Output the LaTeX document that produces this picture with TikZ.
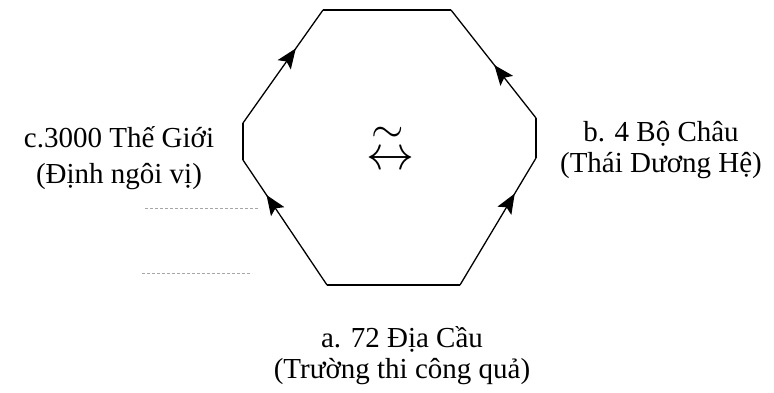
\documentclass[tikz,border=0pt]{standalone}
\usepackage{fontspec}
\setmainfont{Liberation Serif}
\usetikzlibrary{arrows.meta,decorations.markings,positioning}

\begin{document}
\begin{tikzpicture}[x=1pt,y=-1pt]
    \tikzstyle{lbl}=[font=\fontsize{29}{31}\selectfont, align=center, inner sep=0pt]
    \tikzset{fwd/.style={decoration={markings,
        mark=at position #1 with {\arrow{Stealth[length=20pt,width=16pt,inset=4pt]}}},
        postaction={decorate}}}
    \useasboundingbox (0,0) rectangle (774,392);
    % octagon corners
    \coordinate (tl) at (323,10);
    \coordinate (tr) at (451,10);
    \coordinate (ru) at (536,118);
    \coordinate (rd) at (536,158);
    \coordinate (br) at (460,285);
    \coordinate (bl) at (327,285);
    \coordinate (ld) at (243,160);
    \coordinate (lu) at (243,123);
    \draw[line width=1.3pt] (tl) -- (tr);
    \draw[line width=1.3pt] (ru) -- (rd);
    \draw[line width=1.3pt] (br) -- (bl);
    \draw[line width=1.3pt] (ld) -- (lu);
    \draw[line width=1.3pt, fwd=0.66] (lu) -- (tl);
    \draw[line width=1.3pt, fwd=0.49] (ru) -- (tr);
    \draw[line width=1.3pt, fwd=0.72] (bl) -- (ld);
    \draw[line width=1.3pt, fwd=0.72] (br) -- (rd);
    % centre sign
    \node[inner sep=0pt, scale=4.8] (rel) at (390,146)
        {$\stackrel{\scalebox{0.87}{$\sim$}}{\leftrightarrow}$};
    % labels
    \node[lbl] (cw) at (119,158) {c.3000 Thế Giới\\[5pt](Định ngôi vị)};
    \node[lbl] (bc) at (661,150) {b. 4 Bộ Châu\\(Thái Dương Hệ)};
    \node[lbl] (ac) at (402,356) {a. 72 Địa Cầu\\(Trường thi công quả)};
    % faint scan lines
    \coordinate (s1) at (145,208); \coordinate (s2) at (260,208);
    \coordinate (s3) at (142,273); \coordinate (s4) at (252,273);
    \draw[gray!70, densely dashed, line width=0.7pt] (s1) -- (s2);
    \draw[gray!70, densely dashed, line width=0.7pt] (s3) -- (s4);
\end{tikzpicture}
\end{document}
